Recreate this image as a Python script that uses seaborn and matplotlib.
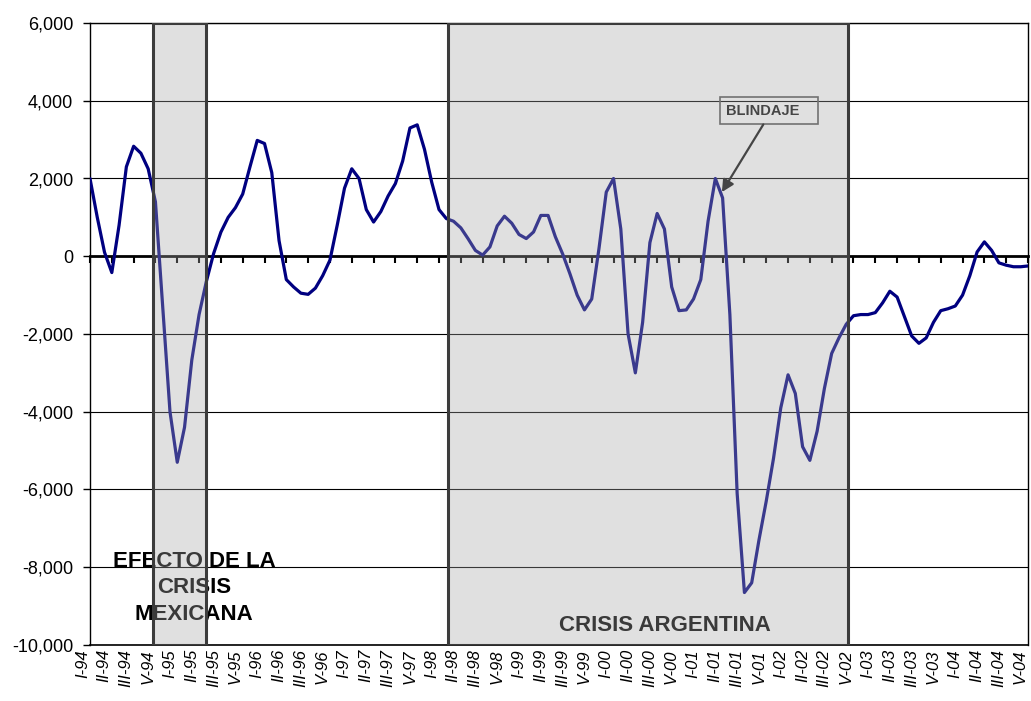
import matplotlib
matplotlib.use("Agg")
import matplotlib.pyplot as plt
import seaborn as sns
import pandas as pd
from matplotlib.ticker import FuncFormatter
from matplotlib.patches import Rectangle

# ---------------- data (monthly, Jan-94 .. Oct-04) ----------------
values = [
    2000, 1000, 100, -420, 800, 2300, 2830, 2650, 2250, 1400,
    -1300, -4000, -5300, -4400, -2670, -1500, -650, 70, 620, 1000,
    1250, 1600, 2300, 2980, 2900, 2150, 400, -600, -790, -950,
    -980, -820, -500, -100, 800, 1750, 2250, 2000, 1200, 880,
    1150, 1550, 1870, 2450, 3300, 3380, 2750, 1900, 1200, 970,
    900, 730, 450, 150, 30, 240, 780, 1030, 850, 560,
    455, 625, 1050, 1050, 500, 60, -450, -1000, -1380, -1100,
    200, 1650, 2000, 700, -2000, -3000, -1700, 350, 1100, 700,
    -790, -1400, -1380, -1100, -600, 900, 2000, 1500, -1500, -6100,
    -8650, -8400, -7300, -6300, -5200, -3900, -3050, -3530, -4900, -5250,
    -4500, -3400, -2500, -2100, -1750, -1530, -1500, -1500, -1450, -1200,
    -900, -1050, -1550, -2050, -2240, -2100, -1700, -1400, -1350, -1280,
    -1000, -500, 110, 370, 150, -170, -230, -270, -270, -250,
]
months = list(range(len(values)))

tick_labels = [
    "I-94", "II-94", "III-94", "V-94", "I-95", "II-95", "III-95", "V-95",
    "I-96", "II-96", "III-96", "V-96", "I-97", "II-97", "III-97", "V-97",
    "I-98", "II-98", "III-98", "V-98", "I-99", "II-99", "III-99", "V-99",
    "I-00", "II-00", "III-00", "V-00", "I-01", "II-01", "III-01", "V-01",
    "I-02", "II-02", "III-02", "V-02", "I-03", "II-03", "III-03", "V-03",
    "I-04", "II-04", "III-04", "V-04",
]
tick_positions = list(range(0, 3 * len(tick_labels), 3))

y_ticks = [-10000, -8000, -6000, -4000, -2000, 0, 2000, 4000, 6000]

crisis_spans = [(8.7, 16.0), (49.2, 104.3)]
crisis_labels = ["EFECTO DE LA\nCRISIS\nMEXICANA", "CRISIS ARGENTINA"]
crisis_label_pos = [(14.3, -8530), (79.1, -9500)]

blindaje_text = "BLINDAJE"
blindaje_point = (86.9, 1650)

df = pd.DataFrame({"mes": months, "valor": values})

# ---------------- figure ----------------
sns.set_theme(style="white")
plt.rcParams["font.family"] = ["Liberation Sans", "DejaVu Sans"]

fig = plt.figure(figsize=(10.31, 7.01), dpi=100)
W, H = 1031, 701
ax = fig.add_axes([90 / W, 1 - 645 / H, (1028 - 90) / W, (645 - 23) / H])

sns.lineplot(data=df, x="mes", y="valor", ax=ax, color="#000080",
             linewidth=2.3, zorder=3)
for ln in ax.get_lines():
    ln.set_solid_joinstyle("round")
    ln.set_solid_capstyle("round")

ax.set_xlim(0, len(values) - 1)
ax.set_ylim(-10000, 6000)
ax.set_xlabel("")
ax.set_ylabel("")

# y axis
ax.set_yticks(y_ticks)
ax.yaxis.set_major_formatter(FuncFormatter(lambda v, p: f"{int(v):,}"))
ax.tick_params(axis="y", direction="out", length=5, width=1, colors="black",
               labelsize=13, left=True, pad=7)
ax.yaxis.grid(True, color="black", linewidth=0.8)
ax.xaxis.grid(False)
ax.set_axisbelow(True)

# x axis line at zero with tick marks
ax.spines["bottom"].set_position(("data", 0))
ax.spines["bottom"].set_linewidth(2.0)
ax.spines["bottom"].set_color("black")
ax.set_xticks(tick_positions)
ax.tick_params(axis="x", direction="out", length=5, width=1.5, colors="black",
               labelbottom=False, bottom=True)
for s in ["left", "top", "right"]:
    ax.spines[s].set_color("black")
    ax.spines[s].set_linewidth(1.0)

# labels at bottom of plot area
sec = ax.secondary_xaxis(0)
sec.set_xticks(tick_positions, labels=tick_labels, rotation=90,
               fontstyle="italic", fontsize=12, ha="right")
sec.tick_params(length=0, pad=3, colors="black")
sec.spines["bottom"].set_color("black")
sec.spines["bottom"].set_linewidth(1.2)

# texts (behind the shaded areas)
for txt, (tx, ty) in zip(crisis_labels, crisis_label_pos):
    ax.text(tx, ty, txt, ha="center", va="center", fontsize=16,
            fontweight="bold", color="black", linespacing=1.35, zorder=4)

# BLINDAJE box + arrow
ax.add_patch(Rectangle((86.7, 3390), 13.4, 700, facecolor="none",
                       edgecolor="#555555", linewidth=1.2, zorder=4))
ax.text(87.4, 3740, blindaje_text, ha="left", va="center", fontsize=10.5,
        fontweight="bold", color="#111111", zorder=4)
ax.annotate("", xy=blindaje_point, xytext=(92.6, 3390),
            arrowprops=dict(arrowstyle="-|>", color="#111111", lw=1.6,
                            mutation_scale=18, shrinkA=0, shrinkB=0),
            zorder=4)

# shaded crisis periods
for x0, x1 in crisis_spans:
    ax.axvspan(x0, x1, facecolor=(0.66, 0.66, 0.66, 0.35), edgecolor="none",
               zorder=5)
    ax.axvspan(x0, x1, facecolor="none", edgecolor="#3c3c3c", linewidth=2.2,
               zorder=6)

fig.savefig("out.png", dpi=100)
